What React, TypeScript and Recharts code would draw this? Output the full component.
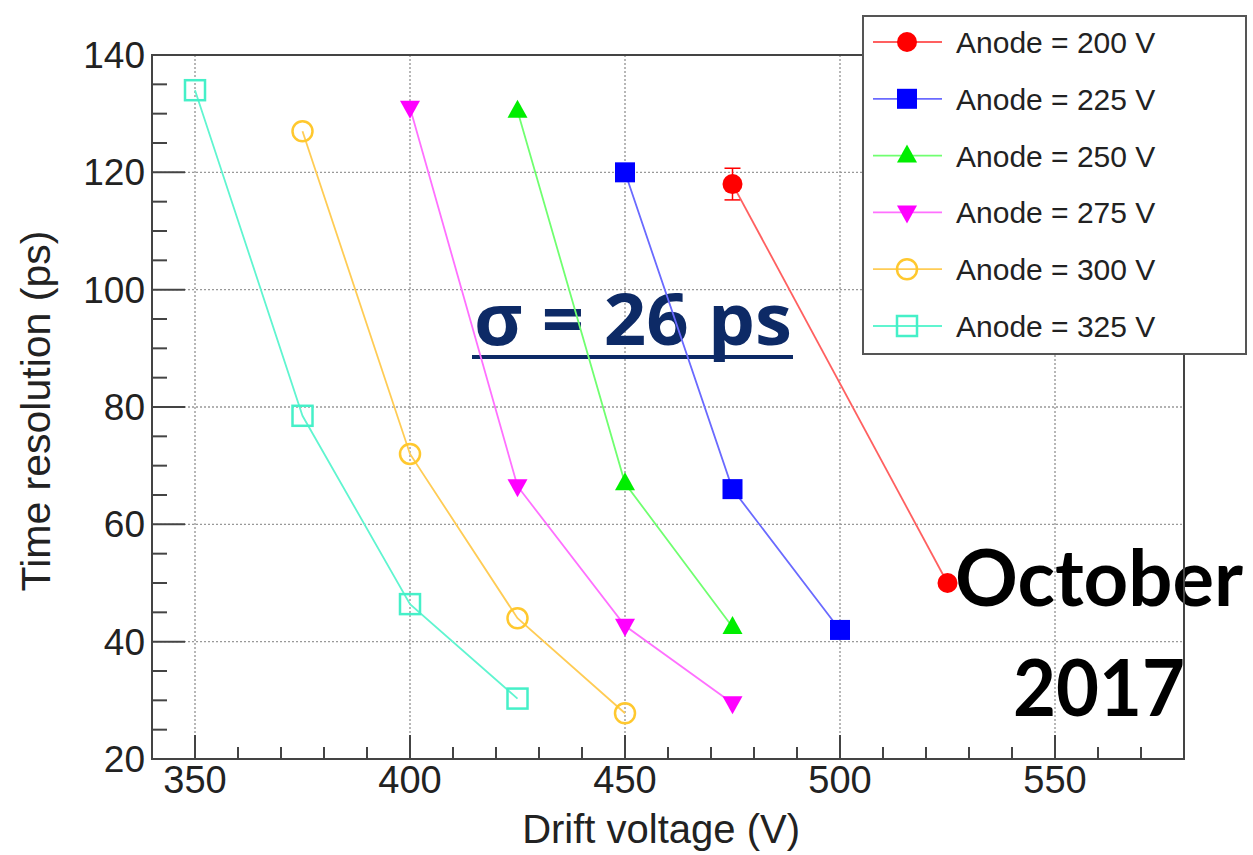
import {
  ComposedChart,
  Scatter,
  XAxis,
  YAxis,
  CartesianGrid,
  ReferenceArea,
  ErrorBar,
  Legend,
  Customized,
} from "recharts"

// Time resolution vs drift voltage, one series per anode voltage
const drift200 = [475, 525]
const res200 = [118, 50]
const err200 = [2.7, 0.8]

const drift225 = [450, 475, 500]
const res225 = [120, 66, 42]

const drift250 = [425, 450, 475]
const res250 = [130.5, 67, 42.5]

const drift275 = [400, 425, 450, 475]
const res275 = [131, 66.5, 42.7, 29.5]

const drift300 = [375, 400, 425, 450]
const res300 = [127, 72, 44, 27.8]

const drift325 = [350, 375, 400, 425]
const res325 = [134, 78.5, 46.4, 30.3]

const xTicks = [350, 400, 450, 500, 550]
const xMinorTicks = [340, 350, 360, 370, 380, 390, 400, 410, 420, 430, 440, 450, 460, 470, 480, 490, 500, 510, 520, 530, 540, 550, 560, 570]
const yTicks = [20, 40, 60, 80, 100, 120, 140]
const yMinorTicks = [20, 25, 30, 35, 40, 45, 50, 55, 60, 65, 70, 75, 80, 85, 90, 95, 100, 105, 110, 115, 120, 125, 130, 135, 140]

type MarkerKind = "circle" | "square" | "triUp" | "triDown" | "openCircle" | "openSquare"

const toPoints = (xs: number[], ys: number[], errs?: number[]) =>
  xs.map((x, i) => ({ x, y: ys[i], err: errs ? errs[i] : 0 }))

const series = [
  { name: "Anode = 200 V", color: "#ff0000", line: "#ff6060", marker: "circle" as MarkerKind, data: toPoints(drift200, res200, err200) },
  { name: "Anode = 225 V", color: "#0000ff", line: "#6a6aff", marker: "square" as MarkerKind, data: toPoints(drift225, res225) },
  { name: "Anode = 250 V", color: "#00ee00", line: "#70ff70", marker: "triUp" as MarkerKind, data: toPoints(drift250, res250) },
  { name: "Anode = 275 V", color: "#ff00ff", line: "#ff70ff", marker: "triDown" as MarkerKind, data: toPoints(drift275, res275) },
  { name: "Anode = 300 V", color: "#ffc82e", line: "#ffcc55", marker: "openCircle" as MarkerKind, data: toPoints(drift300, res300) },
  { name: "Anode = 325 V", color: "#45f0c8", line: "#60f5d0", marker: "openSquare" as MarkerKind, data: toPoints(drift325, res325) },
]

const FONT = "'Liberation Sans', Arial, sans-serif"
const TICK_COLOR = "#444"

// bottom axis tick: inward tick mark, label only on the major values
function XTick({ x, y, payload }: any) {
  const major = xTicks.includes(payload.value)
  return (
    <g>
      <line x1={x} x2={x} y1={y} y2={y - (major ? 24 : 12)} stroke={TICK_COLOR} strokeWidth={2} />
      {major && (
        <text x={x} y={y + 34} textAnchor="middle" fontSize={38} fontFamily={FONT} fill="#222">
          {payload.value}
        </text>
      )}
    </g>
  )
}

// left axis tick: inward tick mark, label only on the major values
function YTick({ x, y, payload }: any) {
  const major = yTicks.includes(payload.value)
  return (
    <g>
      <line x1={x} x2={x + (major ? 33 : 15)} y1={y} y2={y} stroke={TICK_COLOR} strokeWidth={2} />
      {major && (
        <text x={x - 7} y={y + 13} textAnchor="end" fontSize={37} fontFamily={FONT} fill="#222">
          {payload.value}
        </text>
      )}
    </g>
  )
}

function Marker({ kind, cx, cy, color }: { kind: MarkerKind; cx: number; cy: number; color: string }) {
  const r = 10
  switch (kind) {
    case "circle":
      return <circle cx={cx} cy={cy} r={r} fill={color} />
    case "square":
      return <rect x={cx - r} y={cy - r} width={2 * r} height={2 * r} fill={color} />
    case "triUp":
      return <polygon points={`${cx},${cy - 11} ${cx - 10},${cy + 7} ${cx + 10},${cy + 7}`} fill={color} />
    case "triDown":
      return <polygon points={`${cx},${cy + 11} ${cx - 10},${cy - 7} ${cx + 10},${cy - 7}`} fill={color} />
    case "openCircle":
      return <circle cx={cx} cy={cy} r={r} fill="none" stroke={color} strokeWidth={2.5} />
    default:
      return <rect x={cx - r} y={cy - r} width={2 * r} height={2 * r} fill="none" stroke={color} strokeWidth={2.5} />
  }
}

function renderLegend() {
  return (
    <div style={{ width: 385, height: 340, border: "2px solid #555", background: "#fff", boxSizing: "border-box" }}>
      <svg width={381} height={336}>
        {series.map((s, i) => {
          const cy = 25 + i * 56.8
          return (
            <g key={s.name}>
              <line x1={9} x2={78} y1={cy} y2={cy} stroke={s.line} strokeWidth={1.8} />
              <Marker kind={s.marker} cx={43} cy={cy} color={s.color} />
              <text x={92} y={cy + 11} fontSize={30} fontFamily={FONT} fill="#222">
                {s.name}
              </text>
            </g>
          )
        })}
      </svg>
    </div>
  )
}

function Annotations() {
  return (
    <g>
      <text x={474} y={345} fontSize={72} fontWeight={700} fontFamily="'Open Sans', sans-serif" fill="#0d2a66" textLength={318} lengthAdjust="spacingAndGlyphs">
        σ = 26 ps
      </text>
      <line x1={472} x2={793} y1={357} y2={357} stroke="#0d2a66" strokeWidth={4} />
      <text x={955} y={606} fontSize={79} fontWeight={700} fontFamily="Lato, sans-serif" fill="#000" textLength={288} lengthAdjust="spacingAndGlyphs">
        October
      </text>
      <text x={1013} y={716} fontSize={79} fontWeight={700} fontFamily="Lato, sans-serif" fill="#000" textLength={172} lengthAdjust="spacingAndGlyphs">
        2017
      </text>
    </g>
  )
}

export default function App() {
  return (
    <div style={{ position: "absolute", left: 0, top: 0, width: 1253, height: 855, background: "#fff" }}>
      <ComposedChart width={1253} height={855} margin={{ top: 55, right: 69, bottom: 0, left: 60 }}>
        <CartesianGrid stroke="#999" strokeDasharray="2 2" strokeWidth={1.4} verticalValues={xTicks} horizontalValues={yTicks} />
        <XAxis
          dataKey="x"
          type="number"
          domain={[340, 580]}
          ticks={xMinorTicks}
          interval={0}
          height={96}
          axisLine={false}
          tickLine={false}
          tickSize={0}
          tickMargin={0}
          tick={<XTick />}
          allowDataOverflow
          label={{
            content: () => (
              <text x={800} y={843} textAnchor="end" fontSize={40} fontFamily={FONT} fill="#222">
                Drift voltage (V)
              </text>
            ),
          }}
        />
        <YAxis
          dataKey="y"
          type="number"
          domain={[20, 140]}
          ticks={yMinorTicks}
          interval={0}
          width={92}
          axisLine={false}
          tickLine={false}
          tickSize={0}
          tickMargin={0}
          tick={<YTick />}
          allowDataOverflow
          label={{
            content: () => (
              <text x={50} y={411} transform="rotate(-90 50 411)" textAnchor="middle" fontSize={41} fontFamily={FONT} fill="#222">
                Time resolution (ps)
              </text>
            ),
          }}
        />
        <ReferenceArea x1={340} x2={580} y1={20} y2={140} fill="none" stroke="#444" strokeWidth={2} />
        {series.map((s) => (
          <Scatter
            key={s.name}
            name={s.name}
            data={s.data}
            isAnimationActive={false}
            line={{ stroke: s.line, strokeWidth: 1.8 }}
            lineJointType="linear"
            shape={(p: any) => <Marker kind={s.marker} cx={p.cx} cy={p.cy} color={s.color} />}
          >
            {s.marker === "circle" && (
              <ErrorBar dataKey="err" direction="y" width={8} stroke={s.color} strokeWidth={1.5} isAnimationActive={false} />
            )}
          </Scatter>
        ))}
        <Customized component={Annotations} />
        <Legend
          layout="horizontal"
          verticalAlign="middle"
          align="center"
          wrapperStyle={{ left: 862, top: 15, width: 385, height: 340 }}
          content={renderLegend}
        />
      </ComposedChart>
    </div>
  )
}
